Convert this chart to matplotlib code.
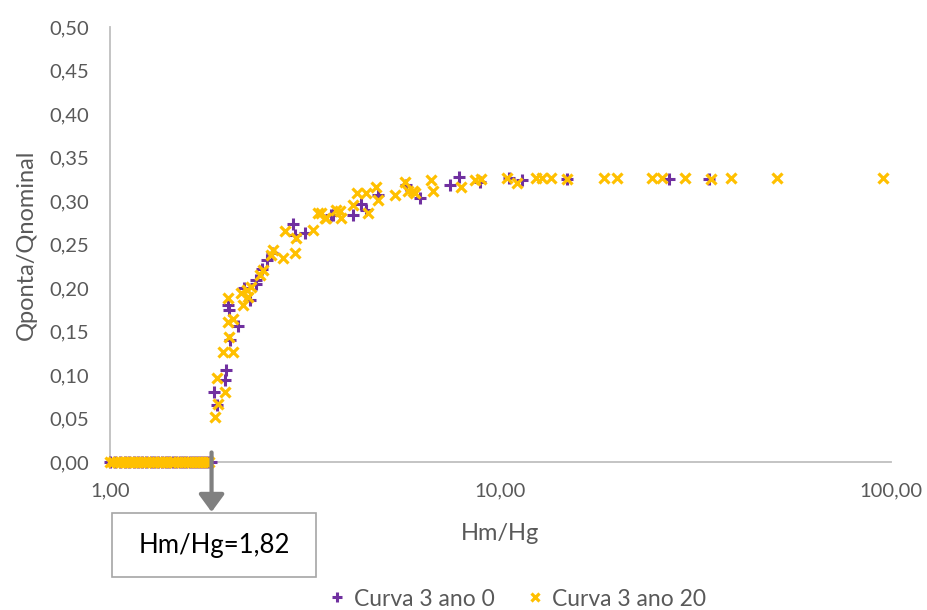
import matplotlib
matplotlib.use("Agg")
import matplotlib.pyplot as plt
from matplotlib.patches import Rectangle
from matplotlib.ticker import FixedLocator, FuncFormatter, NullLocator

plt.rcParams['font.family'] = ['Lato', 'DejaVu Sans']

# ---- data ----
ano0_zero_x = [1.00, 1.03, 1.06, 1.09, 1.12, 1.15, 1.18, 1.21, 1.24, 1.27, 1.30,
               1.33, 1.36, 1.39, 1.42, 1.45, 1.48, 1.51, 1.54, 1.57, 1.60, 1.63,
               1.66, 1.69, 1.72, 1.75, 1.78, 1.81]
ano0_x = [1.875, 1.845, 1.97, 1.98, 2.03, 2.13, 2.02, 2.01, 2.28, 2.20, 2.37, 2.37,
          2.45, 2.52, 2.60, 2.94, 2.97, 3.15, 3.69, 3.72, 4.19, 4.40, 4.53, 4.86,
          5.74, 6.21, 7.41, 7.85, 8.84, 10.5, 11.38, 14.8, 27.0, 34.2]
ano0_y = [0.0655, 0.081, 0.094, 0.106, 0.140, 0.156, 0.175, 0.180, 0.186, 0.200, 0.205, 0.209,
          0.222, 0.232, 0.240, 0.274, 0.261, 0.263, 0.284, 0.284, 0.284, 0.297, 0.290, 0.307,
          0.318, 0.303, 0.318, 0.328, 0.322, 0.326, 0.324, 0.325, 0.325, 0.325]

ano20_zero_x = [1.00, 1.02, 1.04, 1.06, 1.08, 1.10, 1.12, 1.14, 1.16, 1.18, 1.20,
                1.22, 1.24, 1.26, 1.28, 1.30, 1.32, 1.34, 1.36, 1.38, 1.40, 1.43,
                1.46, 1.49, 1.52, 1.55, 1.58, 1.61, 1.64, 1.67, 1.70, 1.73, 1.76, 1.79]
ano20_x = [1.856, 1.89, 1.97, 1.875, 1.95, 2.07, 2.02, 2.01, 2.07, 2.01, 2.17, 2.19,
           2.26, 2.30, 2.24, 2.42, 2.47, 2.59, 2.62, 2.77, 2.97, 2.80, 3.00, 3.31,
           3.41, 3.58, 3.80, 3.48, 3.55, 3.87, 3.91, 4.19, 4.28, 4.53, 4.58, 4.81,
           4.86, 5.36, 5.68, 5.79, 6.03, 5.96, 6.65, 6.71, 7.93, 8.58, 8.92, 10.4,
           11.05, 12.36, 12.8, 13.5, 14.8, 18.45, 19.9, 24.5, 25.95, 29.6, 34.7,
           38.97, 51.1, 95.5]
ano20_y = [0.052, 0.067, 0.081, 0.096, 0.127, 0.127, 0.144, 0.161, 0.164, 0.188, 0.194, 0.180,
           0.190, 0.201, 0.198, 0.215, 0.221, 0.238, 0.244, 0.234, 0.240, 0.265, 0.257, 0.267,
           0.286, 0.280, 0.290, 0.286, 0.280, 0.288, 0.280, 0.295, 0.309, 0.309, 0.286, 0.316,
           0.301, 0.307, 0.322, 0.311, 0.309, 0.311, 0.324, 0.311, 0.316, 0.324, 0.325, 0.326,
           0.321, 0.326, 0.326, 0.326, 0.325, 0.326, 0.326, 0.326, 0.326, 0.326, 0.325,
           0.326, 0.326, 0.326]

y_ticks = [0.00, 0.05, 0.10, 0.15, 0.20, 0.25, 0.30, 0.35, 0.40, 0.45, 0.50]
x_ticks = [1, 10, 100]
label0 = "Curva 3 ano 0"
label20 = "Curva 3 ano 20"
threshold = 1.82
threshold_text = "Hm/Hg=1,82"

purple = "#7030A0"
yellow = "#FFC000"
gray_txt = "#595959"
axis_col = "#BFBFBF"

fig = plt.figure(figsize=(9.28, 6.10), dpi=100)
ax = fig.add_axes([110/928, 1-462/610, (891-110)/928, (462-27)/610])

ax.set_xscale('log')
ax.set_xlim(1, 100)
ax.set_ylim(0, 0.5)

x0 = ano0_zero_x + ano0_x
y0 = [0.0]*len(ano0_zero_x) + ano0_y
x20 = ano20_zero_x + ano20_x
y20 = [0.0]*len(ano20_zero_x) + ano20_y

ax.plot(x0, y0, linestyle='none', marker='+', markersize=9, mew=2.2,
        color=purple, clip_on=False, zorder=3, label=label0)
ax.plot(x20, y20, linestyle='none', marker='x', markersize=7.5, mew=2.3,
        color=yellow, clip_on=False, zorder=4, label=label20)

for s in ['top', 'right']:
    ax.spines[s].set_visible(False)
for s in ['left', 'bottom']:
    ax.spines[s].set_color(axis_col)
    ax.spines[s].set_linewidth(1.3)

ax.xaxis.set_major_locator(FixedLocator(x_ticks))
ax.xaxis.set_minor_locator(NullLocator())
ax.yaxis.set_major_locator(FixedLocator(y_ticks))
fmt = FuncFormatter(lambda v, p: f"{v:.2f}".replace('.', ','))
ax.xaxis.set_major_formatter(fmt)
ax.yaxis.set_major_formatter(fmt)
ax.tick_params(axis='both', length=0, labelsize=14.5, labelcolor=gray_txt)
ax.tick_params(axis='x', pad=15)
ax.tick_params(axis='y', pad=15)

ax.set_xlabel("Hm/Hg", fontsize=17, color=gray_txt, labelpad=17)
ax.set_ylabel("Qponta/Qnominal", fontsize=17, color=gray_txt, labelpad=9)

# arrow + box annotation
ax.annotate("", xy=(threshold, 1-512/610), xycoords=('data', 'figure fraction'),
            xytext=(threshold, 0.011), textcoords=('data', 'data'),
            arrowprops=dict(arrowstyle='-|>,head_width=0.55,head_length=0.75',
                            mutation_scale=14, color="#808080", lw=3,
                            shrinkA=0, shrinkB=0), zorder=6, annotation_clip=False)

rect = Rectangle((112/928, 1-577/610), 204/928, 64/610, transform=fig.transFigure,
                 facecolor='white', edgecolor="#A6A6A6", linewidth=1.2, zorder=5)
fig.patches.append(rect)
fig.text(214/928, 1-545/610, threshold_text, ha='center', va='center',
         fontsize=18.5, color='black', zorder=6)

leg = fig.legend(loc='center', bbox_to_anchor=(516/928, 1-599/610), ncol=2,
                 frameon=False, fontsize=16.5, handletextpad=0.3, columnspacing=1.3,
                 markerscale=0.8, handlelength=0.9)
for t in leg.get_texts():
    t.set_color(gray_txt)

fig.savefig("out.png", dpi=100)
